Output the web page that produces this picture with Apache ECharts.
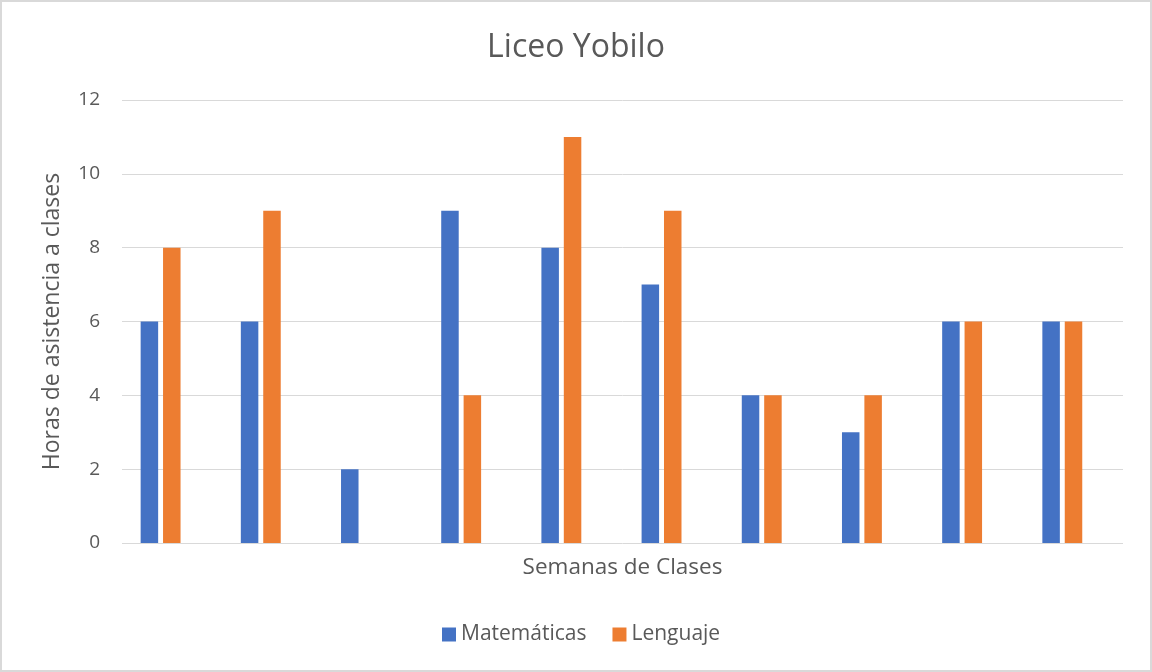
<!DOCTYPE html>
<html>
<head>
<meta charset="utf-8">
<script src="https://cdn.jsdelivr.net/npm/echarts@6/dist/echarts.min.js"></script>
<style>
  html, body { margin: 0; padding: 0; background: #fff; }
  #chart { width: 1152px; height: 672px; box-sizing: border-box; border: 2px solid #d9d9d9; }
</style>
</head>
<body>
<div id="chart"></div>
<script>
// Weekly attendance hours per subject
const weeks = ['Semana 1', 'Semana 2', 'Semana 3', 'Semana 4', 'Semana 5',
               'Semana 6', 'Semana 7', 'Semana 8', 'Semana 9', 'Semana 10'];
const matematicas = [6, 6, 2, 9, 8, 7, 4, 3, 6, 6];
const lenguaje = [8, 9, 0, 4, 11, 9, 4, 4, 6, 6];

const font = '"Open Sans", sans-serif';
const textColor = '#595959';
const gridColor = '#d9d9d9';

const chart = echarts.init(document.getElementById('chart'));
chart.setOption({
  animation: false,
  title: {
    text: 'Liceo Yobilo',
    left: 'center',
    top: 25,
    textStyle: { fontFamily: font, fontSize: 32, fontWeight: 'normal', color: textColor }
  },
  legend: {
    bottom: 20,
    left: 435,
    itemWidth: 14,
    itemHeight: 14,
    itemGap: 26,
    icon: 'rect',
    textStyle: { fontFamily: font, fontSize: 21, color: textColor }
  },
  // grid 0 carries the value scale and its gridlines; grid 1 carries the bars
  grid: [
    { left: 120, right: 27, top: 98, bottom: 127 },
    { left: 108.5, right: 37.6, top: 98, bottom: 127 }
  ],
  xAxis: [
    {
      type: 'category',
      gridIndex: 0,
      data: weeks,
      name: 'Semanas de Clases',
      nameLocation: 'middle',
      nameGap: 13,
      nameTextStyle: { fontFamily: font, fontSize: 22.5, color: textColor },
      axisLine: { show: false },
      axisTick: { show: false },
      axisLabel: { show: false }
    },
    {
      type: 'category',
      gridIndex: 1,
      data: weeks,
      axisLine: { show: false },
      axisTick: { show: false },
      axisLabel: { show: false }
    }
  ],
  yAxis: [
    {
      type: 'value',
      gridIndex: 0,
      min: 0,
      max: 12,
      interval: 2,
      name: 'Horas de asistencia a clases',
      nameLocation: 'middle',
      nameGap: 58,
      nameTextStyle: { fontFamily: font, fontSize: 23, color: textColor },
      axisLabel: { fontFamily: font, fontSize: 19, color: textColor, margin: 22 },
      splitLine: { lineStyle: { color: gridColor, width: 1 } },
      axisLine: { show: false },
      axisTick: { show: false }
    },
    {
      type: 'value',
      gridIndex: 1,
      min: 0,
      max: 12,
      interval: 2,
      axisLabel: { show: false },
      splitLine: { show: false },
      axisLine: { show: false },
      axisTick: { show: false }
    }
  ],
  series: [
    {
      name: 'Matemáticas',
      type: 'bar',
      xAxisIndex: 1,
      yAxisIndex: 1,
      data: matematicas,
      barWidth: 17.5,
      barGap: '28%',
      itemStyle: { color: '#4472C4' }
    },
    {
      name: 'Lenguaje',
      type: 'bar',
      xAxisIndex: 1,
      yAxisIndex: 1,
      data: lenguaje,
      barWidth: 17.5,
      itemStyle: { color: '#ED7D31' }
    }
  ]
});
</script>
</body>
</html>
